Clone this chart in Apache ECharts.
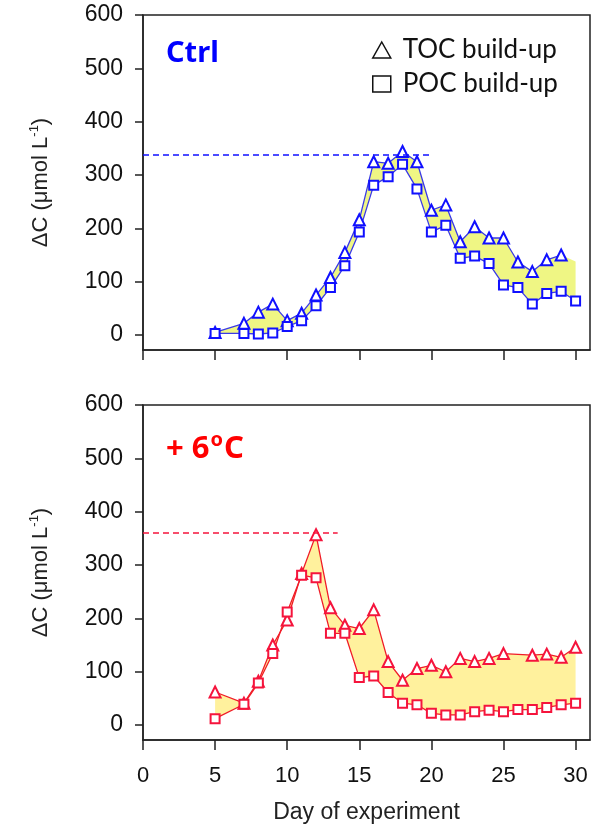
<!DOCTYPE html>
<html>
<head>
<meta charset="utf-8">
<script src="https://cdn.jsdelivr.net/npm/echarts@6/dist/echarts.min.js"></script>
<style>
  html, body { margin: 0; padding: 0; background: #fff; }
  #chart { width: 594px; height: 825px; }
</style>
</head>
<body>
<div id="chart"></div>
<script>
// Ctrl panel
const ctrlPocDays = [5, 7, 8, 9, 10, 11, 12, 13, 14, 15, 16, 17, 18, 19, 20, 21, 22, 23, 24, 25, 26, 27, 28, 29, 30];
const ctrlPoc = [3, 3, 2, 4, 16, 27, 55, 89, 130, 193, 281, 297, 320, 274, 193, 206, 144, 148, 134, 94, 89, 58, 78, 82, 64];
const ctrlTocDays = [5, 7, 8, 9, 10, 11, 12, 13, 14, 15, 16, 17, 18, 19, 20, 21, 22, 23, 24, 25, 26, 27, 28, 29];
const ctrlToc = [5, 22, 43, 58, 27, 41, 75, 108, 155, 216, 325, 322, 344, 325, 234, 244, 175, 203, 182, 182, 137, 119, 141, 150];
const ctrlBandEnd = [30, 138];
const ctrlPeak = 338;
const ctrlPeakEnd = 20.1;

// +6C panel
const warmPocDays = [5, 7, 8, 9, 10, 11, 12, 13, 14, 15, 16, 17, 18, 19, 20, 21, 22, 23, 24, 25, 26, 27, 28, 29, 30];
const warmPoc = [12, 39, 79, 134, 212, 281, 276, 172, 172, 89, 92, 61, 41, 38, 22, 19, 19, 25, 28, 25, 29, 29, 33, 38, 41];
const warmTocDays = [5, 7, 8, 9, 10, 11, 12, 13, 14, 15, 16, 17, 18, 19, 20, 21, 22, 23, 24, 25, 27, 28, 29, 30];
const warmToc = [62, 41, 82, 150, 197, 284, 357, 220, 187, 181, 216, 119, 84, 106, 112, 100, 125, 119, 125, 134, 131, 133, 127, 146];
const warmPeak = 360;
const warmPeakEnd = 13.5;

const yTicks = [0, 100, 200, 300, 400, 500, 600];
const xTicks = [0, 5, 10, 15, 20, 25, 30];

const zip = (xs, ys) => xs.map((x, i) => [x, ys[i]]);

function band(idx, topPts, botPts, color) {
  return {
    type: "custom",
    xAxisIndex: idx,
    yAxisIndex: idx,
    z: 1,
    silent: true,
    data: [[0, 0]],
    renderItem(params, api) {
      const pts = topPts.map((p) => api.coord(p));
      botPts.slice().reverse().forEach((p) => pts.push(api.coord(p)));
      return { type: "polygon", shape: { points: pts }, style: { fill: color } };
    },
  };
}

function lines(idx, lineColor, markColor, toc, poc, peak, peakEnd) {
  return [
    {
      name: "TOC build-up",
      type: "line",
      xAxisIndex: idx,
      yAxisIndex: idx,
      z: 3,
      data: toc,
      symbol: "emptyTriangle",
      symbolSize: 11,
      lineStyle: { color: lineColor, width: 1.3 },
      itemStyle: { color: markColor, borderWidth: 1.5 },
      markLine: {
        silent: true,
        symbol: "none",
        label: { show: false },
        lineStyle: { color: markColor, type: [6, 4], width: 1.5 },
        data: [[{ coord: [0, peak] }, { coord: [peakEnd, peak] }]],
      },
    },
    {
      name: "POC build-up",
      type: "line",
      xAxisIndex: idx,
      yAxisIndex: idx,
      z: 3,
      data: poc,
      symbol: "emptyRect",
      symbolSize: 9,
      lineStyle: { color: lineColor, width: 1.3 },
      itemStyle: { color: markColor, borderWidth: 2 },
    },
  ];
}

const FONT = "Liberation Sans, Arial";

function xAxis(idx, labels) {
  return {
    type: "value",
    gridIndex: idx,
    min: 0,
    max: 31,
    axisLine: { onZero: false, lineStyle: { color: "#222", width: 1.5 } },
    axisTick: { length: 10, customValues: xTicks, lineStyle: { color: "#222", width: 1.5 } },
    axisLabel: { show: labels, margin: 25, customValues: xTicks, fontFamily: FONT, fontSize: 22, color: "#111" },
    splitLine: { show: false },
    name: labels ? "Day of experiment" : "",
    nameLocation: "middle",
    nameGap: 61,
    nameTextStyle: { fontFamily: FONT, fontSize: 23, color: "#222" },
  };
}

function yAxis(idx) {
  return {
    type: "value",
    gridIndex: idx,
    min: -28,
    max: 600,
    axisLine: { show: true, onZero: false, lineStyle: { color: "#222", width: 1.5 } },
    axisTick: { show: true, length: 8, customValues: yTicks, lineStyle: { color: "#222", width: 1.5 } },
    axisLabel: { margin: 20, customValues: yTicks, fontFamily: FONT, fontSize: 23, color: "#111" },
    splitLine: { show: false },
    name: "{a|ΔC (μmol L}{s|-1}{a|)}",
    nameLocation: "middle",
    nameGap: 89,
    nameTextStyle: {
      rich: {
        a: { fontFamily: FONT, fontSize: 22, color: "#222", lineHeight: 26 },
        s: { fontFamily: FONT, fontSize: 13, color: "#222", verticalAlign: "top", lineHeight: 26 },
      },
    },
  };
}

const chart = echarts.init(document.getElementById("chart"));
chart.setOption({
  animation: false,
  backgroundColor: "#fff",
  title: [
    {
      text: "Ctrl",
      left: 166,
      top: 39,
      padding: 0,
      textStyle: { fontFamily: "Noto Sans", fontWeight: "bold", fontSize: 29, color: "#0000ff" },
    },
    {
      text: "{a|+ 6}{s|o}{a|C}",
      left: 166,
      top: 430,
      padding: 0,
      textStyle: {
        rich: {
          a: { fontFamily: "Noto Sans", fontWeight: "bold", fontSize: 31, color: "#ff0000", lineHeight: 38 },
          s: { fontFamily: "Noto Sans", fontWeight: "bold", fontSize: 20, color: "#ff0000", verticalAlign: "top", lineHeight: 38, padding: [0, 1, 0, 1] },
        },
      },
    },
  ],
  legend: {
    orient: "vertical",
    left: 367,
    top: 32,
    itemGap: 8,
    itemWidth: 18,
    itemHeight: 16,
    selectedMode: false,
    textStyle: { fontFamily: "Lato", fontSize: 26, color: "#111", padding: [0, 0, 0, 7] },
    data: [
      { name: "TOC build-up", icon: "triangle", itemStyle: { color: "#fff", borderColor: "#111", borderWidth: 1.5 } },
      { name: "POC build-up", icon: "rect", itemStyle: { color: "#fff", borderColor: "#111", borderWidth: 1.5 } },
    ],
  },
  grid: [
    { left: 143, right: 4, top: 15, height: 335, show: true, borderColor: "#222", borderWidth: 1.5 },
    { left: 143, right: 4, top: 405, height: 335, show: true, borderColor: "#222", borderWidth: 1.5 },
  ],
  xAxis: [xAxis(0, false), xAxis(1, true)],
  yAxis: [yAxis(0), yAxis(1)],
  series: [
    band(0, zip(ctrlTocDays, ctrlToc).concat([ctrlBandEnd]), zip(ctrlPocDays, ctrlPoc), "rgba(236,244,110,0.85)"),
    ...lines(0, "#3a3ae6", "#1010ff", zip(ctrlTocDays, ctrlToc), zip(ctrlPocDays, ctrlPoc), ctrlPeak, ctrlPeakEnd),
    band(1, zip(warmTocDays, warmToc), zip(warmPocDays, warmPoc), "rgba(255,238,140,0.85)"),
    ...lines(1, "#f01c28", "#f5143c", zip(warmTocDays, warmToc), zip(warmPocDays, warmPoc), warmPeak, warmPeakEnd),
  ],
});
</script>
</body>
</html>
